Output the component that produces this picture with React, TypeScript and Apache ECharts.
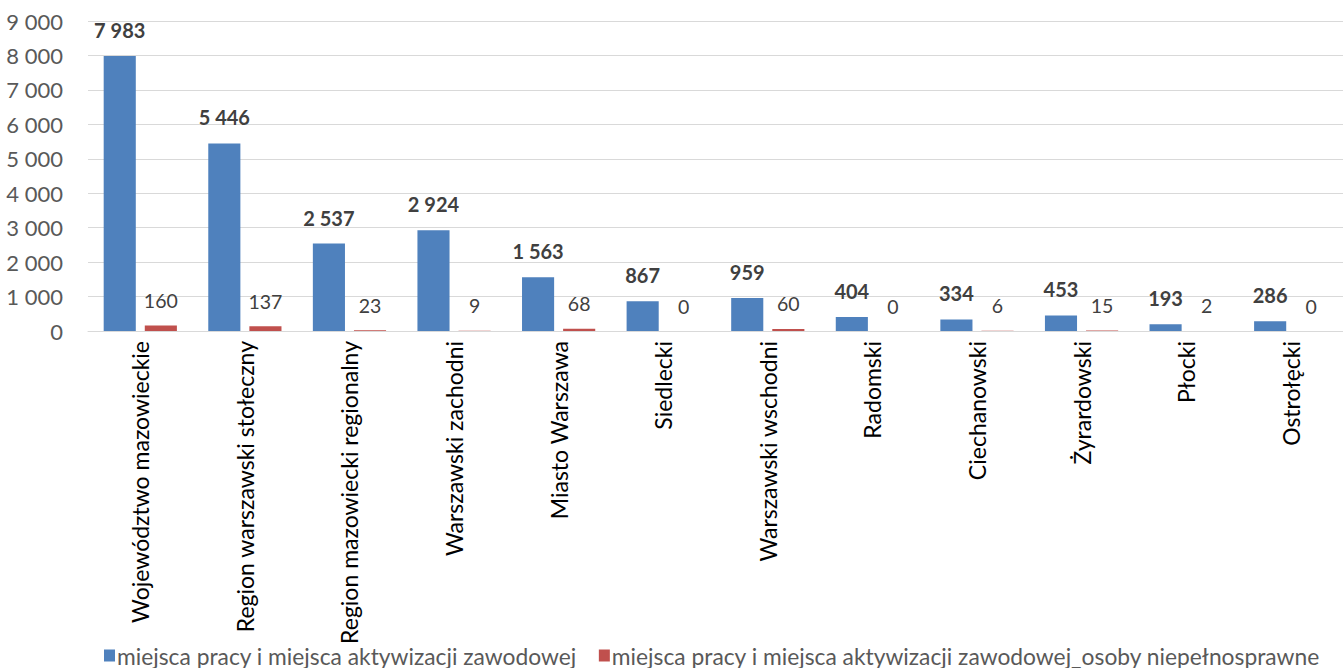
import React, { useEffect, useRef } from "react";
import * as echarts from "echarts";

const categories = [
  "Województwo mazowieckie",
  "Region warszawski stołeczny",
  "Region mazowiecki regionalny",
  "Warszawski zachodni",
  "Miasto Warszawa",
  "Siedlecki",
  "Warszawski wschodni",
  "Radomski",
  "Ciechanowski",
  "Żyrardowski",
  "Płocki",
  "Ostrołęcki",
];
const seriesNames = [
  "miejsca pracy i miejsca aktywizacji zawodowej",
  "miejsca pracy i miejsca aktywizacji zawodowej_osoby niepełnosprawne",
];
const totalValues = [7983, 5446, 2537, 2924, 1563, 867, 959, 404, 334, 453, 193, 286];
const disabledValues = [160, 137, 23, 9, 68, 0, 60, 0, 6, 15, 2, 0];

const fmt = (v: number) => String(Math.round(v)).replace(/\B(?=(\d{3})+(?!\d))/g, " ");
const FONT = "Lato, 'Open Sans', sans-serif";

export default function App() {
  const ref = useRef<HTMLDivElement>(null);
  useEffect(() => {
    if (!ref.current) return;
    const chart = echarts.init(ref.current, null, { renderer: "svg" });
    chart.setOption({
      animation: false,
      textStyle: { fontFamily: FONT },
      grid: { left: 88, right: 0, top: 21, bottom: 337 },
      legend: {
        bottom: 1,
        left: 104,
        width: 1239,
        padding: 0,
        itemWidth: 11,
        itemHeight: 12,
        itemGap: 22,
        icon: "rect",
        textStyle: { fontSize: 22.8, color: "#595959", fontFamily: FONT, padding: [0, 0, 0, -3] },
        data: seriesNames,
      },
      xAxis: {
        type: "category",
        data: categories,
        axisLine: { lineStyle: { color: "#d9d9d9" } },
        axisTick: { show: false },
        axisLabel: { rotate: 90, fontSize: 23, color: "#000", margin: 10, interval: 0, fontFamily: FONT },
      },
      yAxis: {
        type: "value",
        min: 0,
        max: 9000,
        interval: 1000,
        axisLine: { show: false },
        axisTick: { show: false },
        splitLine: { lineStyle: { color: "#d9d9d9" } },
        axisLabel: { fontSize: 22, color: "#595959", margin: 25, formatter: (v: number) => fmt(v), fontFamily: FONT },
      },
      series: [
        {
          name: seriesNames[0],
          type: "bar",
          data: totalValues,
          barGap: "28%",
          barCategoryGap: "30%",
          itemStyle: { color: "#4f81bd" },
          label: {
            show: true,
            position: "top",
            distance: 16,
            fontSize: 20,
            fontWeight: "bold",
            color: "#404040",
            fontFamily: FONT,
            formatter: (p: any) => fmt(p.value),
          },
        },
        {
          name: seriesNames[1],
          type: "bar",
          data: disabledValues,
          itemStyle: { color: "#c0504d" },
          label: {
            show: true,
            position: "top",
            distance: 15,
            fontSize: 19.5,
            color: "#404040",
            fontFamily: FONT,
            formatter: (p: any) => fmt(p.value),
          },
        },
      ],
    });
    return () => chart.dispose();
  }, []);
  return (
    <div
      ref={ref}
      style={{ position: "fixed", left: 0, top: 0, width: 1343, height: 668, background: "#fff" }}
    />
  );
}
